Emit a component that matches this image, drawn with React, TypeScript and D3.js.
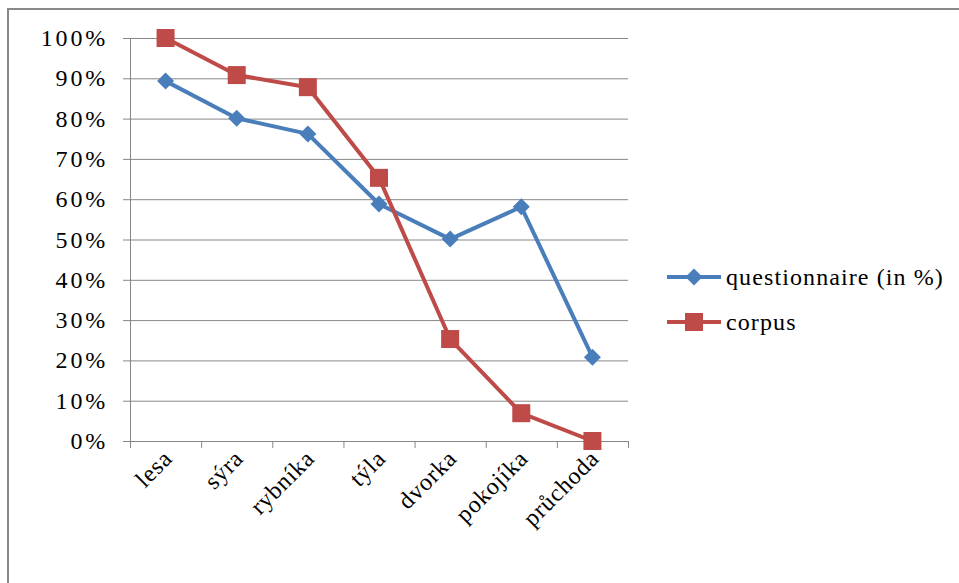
import React from "react";
import * as d3 from "d3";

const categories = ["lesa", "sýra", "rybníka", "týla", "dvorka", "pokojíka", "průchoda"];
const questionnaire = [89.3, 80.1, 76.2, 58.8, 50.1, 58.1, 20.8];
const corpus = [100, 90.8, 87.8, 65.3, 25.3, 6.9, 0];
const yTicks = [0, 10, 20, 30, 40, 50, 60, 70, 80, 90, 100];
const seriesNames = ["questionnaire (in %)", "corpus"];

const W = 959;
const H = 583;
const left = 130;
const right = 628;
const top = 38;
const bottom = 441;
const BLUE = "#4a7ebb";
const RED = "#be4b48";
const GRID = "#878787";
const FONT = "Liberation Serif, Times New Roman, serif";

export default function App() {
  const x = d3.scaleBand<string>().domain(categories).range([left, right]).padding(0);
  const y = d3.scaleLinear().domain([0, 100]).range([bottom, top]);
  const cx = (c: string) => (x(c) as number) + x.bandwidth() / 2;
  const line = d3
    .line<number>()
    .x((_, i) => cx(categories[i]))
    .y((v) => y(v));

  const diamond = (px: number, py: number, r: number) =>
    `M${px},${py - r}L${px + r},${py}L${px},${py + r}L${px - r},${py}Z`;

  const bounds = categories.map((c) => x(c) as number).concat([right]);

  return (
    <svg width={W} height={H} style={{ position: "absolute", left: 0, top: 0, display: "block" }}>
      <rect x={0} y={0} width={W} height={H} fill="#fff" />
      {/* chart frame */}
      <rect x={8} y={9} width={W + 10} height={H + 10} fill="none" stroke="#898989" strokeWidth={2} />

      {/* horizontal gridlines and y ticks */}
      {yTicks.map((t) => (
        <g key={t}>
          <line x1={left - 7} x2={right} y1={y(t) + 0.5} y2={y(t) + 0.5} stroke={GRID} strokeWidth={1} />
          <text
            x={108}
            y={y(t) + 8}
            textAnchor="end"
            fontFamily={FONT}
            fontSize={24}
            letterSpacing={2.8}
            fill="#000"
          >
            {t}%
          </text>
        </g>
      ))}
      {/* y axis */}
      <line x1={left + 0.5} x2={left + 0.5} y1={top} y2={bottom + 7} stroke={GRID} strokeWidth={1} />
      {/* x ticks */}
      {bounds.map((b, i) => (
        <line key={i} x1={b + 0.5} x2={b + 0.5} y1={bottom} y2={bottom + 7} stroke={GRID} strokeWidth={1} />
      ))}
      {/* x labels */}
      {categories.map((c) => (
        <text
          key={c}
          transform={`translate(${cx(c) + 8},${bottom + 19}) rotate(-45)`}
          textAnchor="end"
          fontFamily={FONT}
          fontSize={24}
          letterSpacing={0.8}
          fill="#000"
        >
          {c}
        </text>
      ))}

      {/* questionnaire series */}
      <path d={line(questionnaire) as string} fill="none" stroke={BLUE} strokeWidth={4} strokeLinejoin="round" />
      {questionnaire.map((v, i) => (
        <path key={i} d={diamond(cx(categories[i]), y(v), 8.5)} fill={BLUE} />
      ))}

      {/* corpus series */}
      <path d={line(corpus) as string} fill="none" stroke={RED} strokeWidth={4} strokeLinejoin="round" />
      {corpus.map((v, i) => (
        <rect key={i} x={cx(categories[i]) - 9} y={y(v) - 9} width={18} height={18} fill={RED} />
      ))}

      {/* legend */}
      <g>
        <line x1={667} x2={721} y1={277} y2={277} stroke={BLUE} strokeWidth={4} />
        <path d={diamond(694, 277, 8.5)} fill={BLUE} />
        <text x={726} y={285} fontFamily={FONT} fontSize={24} letterSpacing={1.1} fill="#000">
          {seriesNames[0]}
        </text>
        <line x1={667} x2={721} y1={322} y2={322} stroke={RED} strokeWidth={4} />
        <rect x={685} y={313} width={18} height={18} fill={RED} />
        <text x={726} y={330} fontFamily={FONT} fontSize={24} letterSpacing={1.1} fill="#000">
          {seriesNames[1]}
        </text>
      </g>
    </svg>
  );
}
